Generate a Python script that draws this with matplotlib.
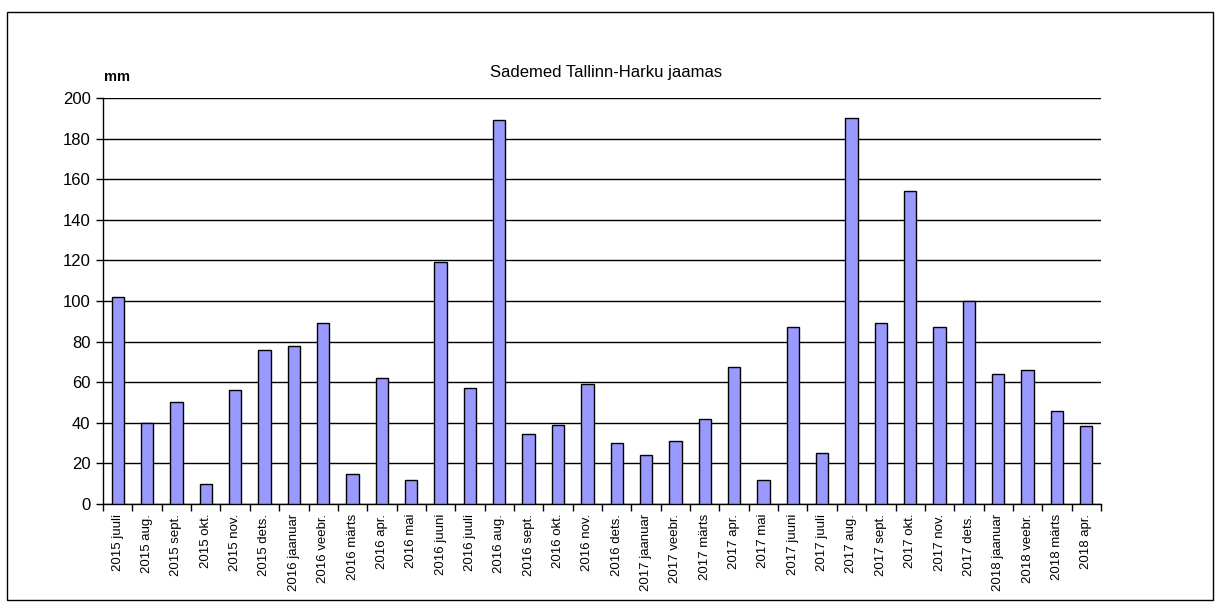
import numpy as np
import matplotlib
matplotlib.use("Agg")
import matplotlib.pyplot as plt
from matplotlib.patches import Rectangle

plt.rcParams['font.family'] = ['Liberation Sans', 'DejaVu Sans']

months = ["2015 juuli", "2015 aug.", "2015 sept.", "2015 okt.", "2015 nov.", "2015 dets.",
          "2016 jaanuar", "2016 veebr.", "2016 märts", "2016 apr.", "2016 mai", "2016 juuni",
          "2016 juuli", "2016 aug.", "2016 sept.", "2016 okt.", "2016 nov.", "2016 dets.",
          "2017 jaanuar", "2017 veebr.", "2017 märts", "2017 apr.", "2017 mai", "2017 juuni",
          "2017 juuli", "2017 aug.", "2017 sept.", "2017 okt.", "2017 nov.", "2017 dets.",
          "2018 jaanuar", "2018 veebr.", "2018 märts", "2018 apr."]
rain_mm = [102, 40, 50, 10, 56, 76,
           78, 89, 15, 62, 12, 119,
           57, 189, 34.5, 39, 59, 30,
           24, 31, 42, 67.5, 12, 87,
           25, 190, 89, 154, 87, 100,
           64, 66, 46, 38.5]
y_ticks = [0, 20, 40, 60, 80, 100, 120, 140, 160, 180, 200]

fig = plt.figure(figsize=(12.21, 6.07), dpi=100)
ax = fig.add_axes([0.0844, 0.1697, 0.8173, 0.6689])

x = np.arange(len(months))
ax.bar(x, rain_mm, width=0.42, color="#9999ff", edgecolor="black", linewidth=1, zorder=3)

ax.set_xlim(-0.5, len(months) - 0.5)
ax.set_ylim(0, 200)
ax.set_yticks(y_ticks)
ax.tick_params(axis='y', labelsize=12, length=5, width=1, direction='out', pad=4)
ax.yaxis.grid(True, color="black", linewidth=1, zorder=0)

# category labels sit between boundary ticks
ax.set_xticks(np.arange(len(months) + 1) - 0.5)
ax.set_xticklabels([])
ax.tick_params(axis='x', which='major', length=5, width=1, direction='out')
ax.set_xticks(x, minor=True)
ax.set_xticklabels(months, minor=True, rotation=90, fontsize=9.5)
ax.tick_params(axis='x', which='minor', length=0, pad=7)

for side in ["top", "right"]:
    ax.spines[side].set_visible(False)
ax.spines["left"].set_linewidth(1)
ax.spines["bottom"].set_linewidth(1)

fig.text(0.496, 0.881, "Sademed Tallinn-Harku jaamas", ha="center", va="center", fontsize=12)
fig.text(0.096, 0.873, "mm", ha="center", va="center", fontsize=10.5, fontweight="bold")

fig.patches.append(Rectangle((7 / 1221, 7 / 607), 1206 / 1221, 588 / 607,
                             transform=fig.transFigure, fill=False,
                             edgecolor="black", linewidth=1))

fig.savefig("out.png", dpi=100)
